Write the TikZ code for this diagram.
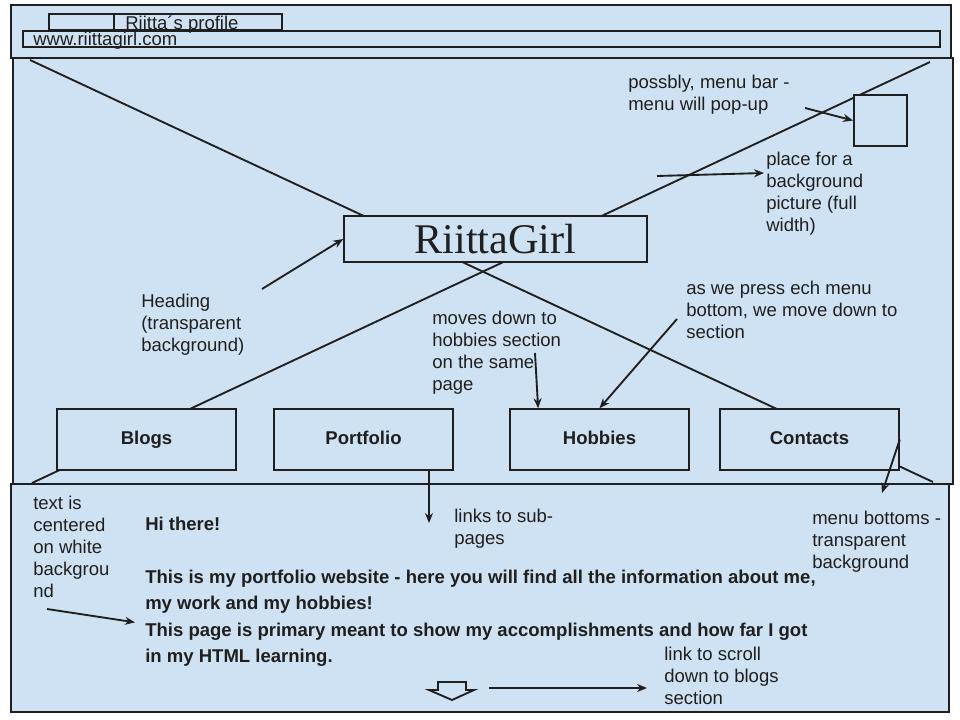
\documentclass[tikz,border=0pt]{standalone}
\usepackage{fontspec}
\setmainfont{Liberation Sans}
\newfontfamily\headingfont{Liberation Serif}
\usetikzlibrary{positioning,calc,arrows,arrows.meta}
\definecolor{pageblue}{HTML}{CFE2F3}
\definecolor{ink}{HTML}{1F1F1F}

\begin{document}
\begin{tikzpicture}[x=0.75pt, y=-0.75pt,
	frame/.style={draw=ink, fill=pageblue, line width=1.4pt},
	menubox/.style={frame, minimum width=134pt, minimum height=45.5pt, text height=0.77em, text depth=0pt, font=\fontsize{13.9}{16.5}\selectfont\bfseries},
	note/.style={anchor=north west, align=left},
	pointer/.style={draw=ink, line width=1.4pt, ->, >={Stealth[length=7.5pt, width=6pt]}}]
	\tikzstyle{every node}=[inner sep=0pt, text=ink, font=\fontsize{13.9}{16.5}\selectfont]

	\useasboundingbox (0, 0) rectangle (960, 720);

	% browser bar
	\draw [frame] (11, 5) rectangle (951, 58);
	\draw [frame] (49, 14) rectangle (282, 30);
	\draw [ink, line width=1.4pt] (114, 14) -- (114, 30);
	\draw [frame] (23, 31) rectangle (940, 47);
	\node [note] (tab) at (125, 16) {Riitta´s profile};
	\node [note] (url) at (33, 32) {www.riittagirl.com};

	% header with background picture, then page body
	\draw [frame] (13, 58) rectangle (953, 484);
	\draw [frame] (11, 484) rectangle (949, 712);

	\coordinate (xa) at (30, 60);
	\coordinate (xb) at (933, 482);
	\coordinate (xc) at (930, 62);
	\coordinate (xd) at (32, 483);
	\draw [ink, line width=1.4pt] (xa) -- (xb);
	\draw [ink, line width=1.4pt] (xc) -- (xd);

	\node [frame, minimum width=227pt, minimum height=34.5pt, font=\headingfont\fontsize{31.7}{36}\selectfont] (heading) at (495.5, 239) {RiittaGirl};
	\node [frame, minimum width=39.75pt, minimum height=38.25pt] (menu) at (880.5, 120.5) {};

	\node [menubox] (blogs)     at (146.5, 439.5) {Blogs};
	\node [menubox] (portfolio) at (363.5, 439.5) {Portfolio};
	\node [menubox] (hobbies)   at (599.5, 439.5) {Hobbies};
	\node [menubox] (contacts)  at (809.5, 439.5) {Contacts};

	% notes
	\node [note] (popup)      at (628, 75)  {possbly, menu bar -\\menu will pop-up};
	\node [note] (bgpic)      at (766, 152) {place for a\\background\\picture (full\\width)};
	\node [note] (headnote)   at (141, 294) {Heading\\(transparent\\background)};
	\node [note] (movenote)   at (432, 311) {moves down to\\hobbies section\\on the same\\page};
	\node [note] (pressnote)  at (686, 281) {as we press ech menu\\bottom, we move down to\\section};
	\node [note] (subnote)    at (454, 509) {links to sub-\\pages};
	\node [note] (bottomnote) at (812, 511) {menu bottoms -\\transparent\\background};
	\node [note] (centernote) at (33, 496)  {text is\\centered\\on white\\backgrou\\nd};
	\node [note] (scrollnote) at (664, 647) {link to scroll\\down to blogs\\section};

	% page text
	\node [note, font=\fontsize{13.9}{16.5}\selectfont\bfseries] (hello) at (145, 517) {Hi there!};
	\node [note, font=\fontsize{13.9}{19.7}\selectfont\bfseries] (intro) at (145, 570) {This is my portfolio website - here you will find all the information about me,\\my work and my hobbies!\\This page is primary meant to show my accomplishments and how far I got\\in my HTML learning.};

	% scroll down icon
	\coordinate (scroll) at (452, 682);
	\draw [ink, line width=1.4pt, line join=miter] (scroll) ++(-14, 0) -- ++(28, 0) -- ++(0, 8) -- ++(8, 0) -- ++(-22, 10) -- ++(-23, -10) -- ++(9, 0) -- cycle;

	% arrows
	\coordinate (popuptail) at (805, 108);
	\coordinate (bgtail)    at (657, 176);
	\coordinate (headtail)  at (262, 289);
	\coordinate (movetail)  at (535, 353);
	\coordinate (presstail) at (677, 319);
	\coordinate (subtip)    at (429, 523);
	\coordinate (bottomtip) at (882, 493);
	\coordinate (centertail) at (47, 609);
	\coordinate (scrolltail) at (489, 688);
	\coordinate (scrolltip)  at (647, 688);

	\draw [pointer] (popuptail) -- (menu.west);
	\draw [pointer] (bgtail) -- ($(bgpic.north west)+(-2, 21)$);
	\draw [pointer] (headtail) -- (heading.west);
	\draw [pointer] (movetail) -- ($(hobbies.north west)!0.16!(hobbies.north east)$);
	\draw [pointer] (presstail) -- (hobbies.north);
	\draw [pointer] (portfolio.south -| subtip) -- (subtip);
	\draw [pointer] (contacts.east) -- (bottomtip);
	\draw [pointer] (centertail) -- ($(intro.west)+(-10, 4)$);
	\draw [pointer] (scrolltail) -- (scrolltip);
\end{tikzpicture}
\end{document}
